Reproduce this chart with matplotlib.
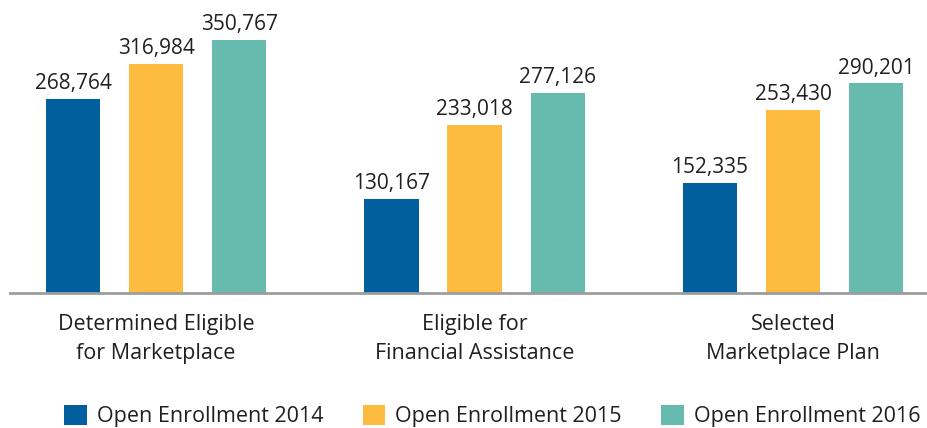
import matplotlib
matplotlib.use("Agg")
import matplotlib.pyplot as plt
import numpy as np
from matplotlib.patches import Patch

plt.rcParams["font.family"] = ["Open Sans", "DejaVu Sans"]

categories = ["Determined Eligible\nfor Marketplace",
              "Eligible for\nFinancial Assistance",
              "Selected\nMarketplace Plan"]
series = ["Open Enrollment 2014", "Open Enrollment 2015", "Open Enrollment 2016"]
values_2014 = [268764, 130167, 152335]
values_2015 = [316984, 233018, 253430]
values_2016 = [350767, 277126, 290201]
colors = ["#005F9C", "#FDBB40", "#66BBAE"]
text_color = "#231F20"

W, H = 927, 428
fig = plt.figure(figsize=(W / 100, H / 100), dpi=100)
ax = fig.add_axes([10 / W, 135 / H, 917 / W, 293 / H])

x = np.arange(len(categories))
width = 0.17
offset = 0.261
for i, (vals, col) in enumerate(zip([values_2014, values_2015, values_2016], colors)):
    pos = x + (i - 1) * offset
    ax.bar(pos, vals, width=width, color=col, zorder=2)
    for px, v in zip(pos, vals):
        ax.annotate(f"{v:,}", (px, v), xytext=(0, 7), textcoords="offset points",
                    ha="center", va="baseline", fontsize=15, color=text_color)

ax.set_xlim(-0.459, 2.421)
ax.set_ylim(0, 405800)
ax.set_yticks([])
ax.set_xticks(x)
ax.set_xticklabels(categories, fontsize=15.5, color=text_color, linespacing=1.5)
ax.tick_params(axis="x", length=0, pad=15)
for s in ["top", "right", "left"]:
    ax.spines[s].set_visible(False)
ax.spines["bottom"].set_color("#9D9D9D")
ax.spines["bottom"].set_linewidth(2)
ax.patch.set_alpha(0)

handles = [Patch(facecolor=c, edgecolor="none") for c in colors]
fig.legend(handles, series, loc="center", bbox_to_anchor=(0.531, 1 - 416 / H),
           ncol=3, frameon=False, fontsize=15.5, handlelength=1.05, handleheight=1.05,
           handletextpad=0.45, columnspacing=1.85, labelcolor=text_color)

fig.savefig("out.png", dpi=100)
